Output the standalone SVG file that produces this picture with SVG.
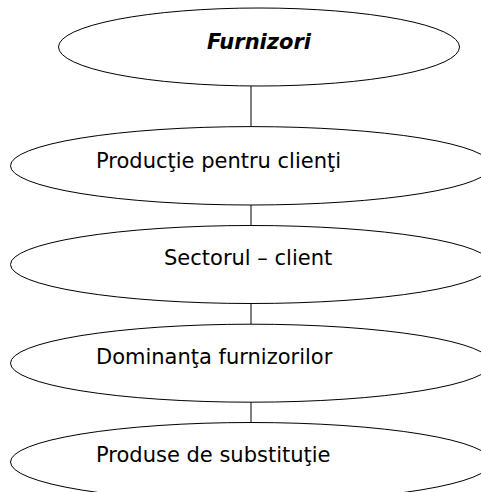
<svg xmlns="http://www.w3.org/2000/svg" width="481" height="492" viewBox="0 0 481 492">
  <style>
    .node ellipse { fill: #ffffff; stroke: #000000; stroke-width: 1; }
    .link { stroke: #4a4a4a; stroke-width: 1.4; fill: none; }
    text { font-family: "DejaVu Sans", Verdana, sans-serif; font-size: 21px; fill: #000000; }
    .title { font-weight: bold; font-style: italic; text-anchor: middle; }
  </style>
  <rect x="0" y="0" width="481" height="492" fill="#ffffff"/>
  <g id="connectors">
    <line class="link" x1="251" y1="86" x2="251" y2="126.5"/>
    <line class="link" x1="251" y1="205" x2="251" y2="225.5"/>
    <line class="link" x1="251" y1="303.5" x2="251" y2="324"/>
    <line class="link" x1="251" y1="402" x2="251" y2="422.5"/>
  </g>
  <g id="furnizori" class="node">
    <ellipse cx="259" cy="47" rx="200.5" ry="39"/>
    <text class="title" x="259" y="48.5">Furnizori</text>
  </g>
  <g id="productie" class="node">
    <ellipse cx="251" cy="165.8" rx="240.5" ry="39.2"/>
    <text x="96" y="167.5">Producţie pentru clienţi</text>
  </g>
  <g id="sectorul" class="node">
    <ellipse cx="251" cy="264.5" rx="240.5" ry="39"/>
    <text x="164" y="265">Sectorul – client</text>
  </g>
  <g id="dominanta" class="node">
    <ellipse cx="251" cy="363.2" rx="240.5" ry="39"/>
    <text x="96" y="363.5">Dominanţa furnizorilor</text>
  </g>
  <g id="substitutie" class="node">
    <ellipse cx="251" cy="462" rx="240.5" ry="39.5"/>
    <text x="96" y="461.7">Produse de substituţie</text>
  </g>
</svg>
